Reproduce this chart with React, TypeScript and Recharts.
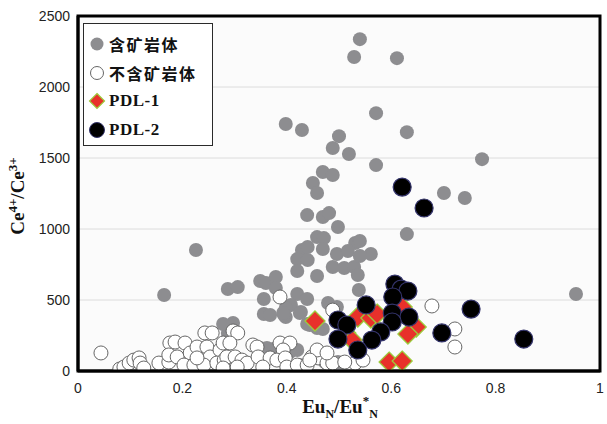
import React from 'react';
import {
  ScatterChart,
  Scatter,
  XAxis,
  YAxis,
  CartesianGrid,
} from 'recharts';

// [EuN/EuN*, Ce4+/Ce3+]
const oreBearing: [number, number][] = [
  [0.54, 2337], [0.529, 2211], [0.611, 2203], [0.571, 1816], [0.63, 1682],
  [0.398, 1739], [0.429, 1697], [0.5, 1654], [0.488, 1570], [0.519, 1528],
  [0.571, 1450], [0.774, 1492], [0.469, 1401], [0.488, 1380], [0.45, 1324],
  [0.458, 1253], [0.701, 1253], [0.741, 1218], [0.954, 542], [0.226, 852],
  [0.165, 535], [0.439, 1098], [0.469, 1084], [0.481, 1112], [0.498, 1014],
  [0.458, 943], [0.471, 936], [0.469, 859], [0.496, 824], [0.429, 852],
  [0.44, 873], [0.42, 788], [0.44, 781], [0.42, 704], [0.488, 732],
  [0.458, 669], [0.349, 634], [0.36, 620], [0.379, 662], [0.379, 584],
  [0.287, 577], [0.306, 591], [0.356, 507], [0.42, 542], [0.439, 507],
  [0.408, 465], [0.398, 444], [0.427, 415], [0.356, 401], [0.398, 380],
  [0.297, 338], [0.439, 331], [0.469, 296], [0.479, 479], [0.531, 901],
  [0.517, 845], [0.51, 725], [0.529, 732], [0.536, 676], [0.538, 570],
  [0.63, 964], [0.54, 915], [0.561, 824], [0.54, 810], [0.395, 394],
  [0.496, 451], [0.368, 394], [0.393, 408], [0.425, 408], [0.444, 324],
  [0.458, 303], [0.362, 162], [0.374, 155], [0.42, 148], [0.498, 63],
  [0.496, 28], [0.349, 162], [0.406, 134], [0.473, 63], [0.425, 42],
  [0.287, 268], [0.278, 331],
];

const barren: [number, number][] = [
  [0.044, 127], [0.08, 14], [0.088, 28], [0.098, 56], [0.107, 77],
  [0.117, 92], [0.119, 56], [0.126, 21], [0.155, 56], [0.174, 63],
  [0.176, 197], [0.186, 204], [0.205, 197], [0.174, 113], [0.19, 99],
  [0.215, 127], [0.203, 42], [0.222, 42], [0.228, 169], [0.243, 268],
  [0.257, 268], [0.247, 169], [0.253, 99], [0.241, 42], [0.272, 148],
  [0.266, 56], [0.28, 77], [0.228, 92], [0.297, 282], [0.306, 268],
  [0.278, 197], [0.291, 197], [0.335, 183], [0.343, 169], [0.387, 197],
  [0.406, 197], [0.393, 148], [0.285, 99], [0.301, 99], [0.314, 77],
  [0.324, 56], [0.345, 99], [0.368, 92], [0.381, 77], [0.397, 92],
  [0.4, 28], [0.42, 42], [0.439, 42], [0.448, 99], [0.46, 92],
  [0.477, 56], [0.488, 56], [0.458, 148], [0.477, 127], [0.278, 21],
  [0.305, 28], [0.354, 28], [0.387, 521], [0.488, 429], [0.678, 458],
  [0.722, 296], [0.722, 169], [0.531, 56], [0.511, 63], [0.546, 77],
  [0.444, 77],
];

const pdl1: [number, number][] = [
  [0.454, 352], [0.536, 380], [0.561, 373], [0.573, 401], [0.621, 451],
  [0.648, 310], [0.632, 260], [0.513, 268], [0.525, 218], [0.596, 63],
  [0.621, 70],
];

const pdl2: [number, number][] = [
  [0.621, 1295], [0.663, 1148], [0.607, 612], [0.619, 577], [0.632, 563],
  [0.603, 521], [0.552, 465], [0.753, 436], [0.602, 408], [0.634, 380],
  [0.498, 359], [0.515, 324], [0.602, 345], [0.58, 275], [0.697, 268],
  [0.563, 218], [0.498, 225], [0.536, 148], [0.854, 225],
];

const xTicks = [0, 0.2, 0.4, 0.6, 0.8, 1];
const yTicks = [0, 500, 1000, 1500, 2000, 2500];

const toRows = (pts: [number, number][]) => pts.map(([x, y]) => ({ x, y }));

const GRAY = '#8d8d90';
const RED = '#e8312b';
const GREEN = '#9ccb3b';

// plot box edges, matching the chart margins + axis sizes below
const PLOT = { left: 78, top: 16, right: 600, bottom: 371 };

const GrayDot = (p: any) => <circle cx={p.cx} cy={p.cy} r={7} fill={GRAY} />;
const WhiteDot = (p: any) => (
  <circle cx={p.cx} cy={p.cy} r={7} fill="#fff" stroke="#666" strokeWidth={1} />
);
const BlackDot = (p: any) => (
  <circle cx={p.cx} cy={p.cy} r={9} fill="#000" stroke="#33336a" strokeWidth={1.2} />
);
const Diamond = (p: any) => {
  const d = 10;
  return (
    <polygon
      points={`${p.cx},${p.cy - d} ${p.cx + d},${p.cy} ${p.cx},${p.cy + d} ${p.cx - d},${p.cy}`}
      fill={RED}
      stroke={GREEN}
      strokeWidth={1.3}
    />
  );
};

const serif = '"Liberation Serif", "DejaVu Serif", serif';
const sans = '"Liberation Sans", Arial, sans-serif';

const YLabel = () => (
  <text
    x={24}
    y={196}
    transform="rotate(-90 24 196)"
    textAnchor="middle"
    fontFamily={serif}
    fontWeight="bold"
    fontSize={19}
    fill="#111"
  >
    Ce<tspan dy={-7} fontSize={13}>4+</tspan>
    <tspan dy={7}>/Ce</tspan>
    <tspan dy={-7} fontSize={13}>3+</tspan>
  </text>
);

const XLabel = () => (
  <text x={340} y={413} textAnchor="middle" fontFamily={serif} fontWeight="bold" fontSize={19} fill="#111">
    Eu<tspan dy={5} fontSize={12}>N</tspan>
    <tspan dy={-5}>/Eu</tspan>
    <tspan dy={-8} fontSize={13}>*</tspan>
    <tspan dy={13} fontSize={12}>N</tspan>
  </text>
);

const legendItems = [
  { label: '含矿岩体', icon: 'gray' },
  { label: '不含矿岩体', icon: 'white' },
  { label: 'PDL-1', icon: 'diamond' },
  { label: 'PDL-2', icon: 'black' },
];

const LegendIcon = ({ kind }: { kind: string }) => (
  <svg width={18} height={18} style={{ marginRight: 3, flex: 'none' }}>
    {kind === 'gray' && <circle cx={9} cy={9} r={6.5} fill={GRAY} />}
    {kind === 'white' && <circle cx={9} cy={9} r={6.5} fill="#fff" stroke="#666" />}
    {kind === 'diamond' && <polygon points="9,1.5 16.5,9 9,16.5 1.5,9" fill={RED} stroke={GREEN} strokeWidth={1.2} />}
    {kind === 'black' && <circle cx={9} cy={9} r={7.5} fill="#000" stroke="#33336a" />}
  </svg>
);

export default function App() {
  return (
    <div style={{ position: 'absolute', left: 0, top: 0, width: 607, height: 424, background: '#fff' }}>
      <ScatterChart
        width={607}
        height={424}
        margin={{ top: PLOT.top, right: 607 - PLOT.right, bottom: 23, left: PLOT.left - 60 }}
      >
        <CartesianGrid vertical={false} stroke="#dcdcdc" fill="#fbfbfb" />
        <XAxis
          type="number"
          dataKey="x"
          domain={[0, 1]}
          ticks={xTicks}
          allowDataOverflow
          height={30}
          tickLine={false}
          axisLine={{ stroke: '#1a1a1a', strokeWidth: 3 }}
          tickSize={0}
          tickMargin={12}
          tick={{ fontSize: 14, fill: '#222', fontFamily: sans }}
          label={<XLabel />}
        />
        <YAxis
          type="number"
          dataKey="y"
          domain={[0, 2500]}
          ticks={yTicks}
          allowDataOverflow
          width={60}
          tickLine={false}
          axisLine={{ stroke: '#1a1a1a', strokeWidth: 3 }}
          tickSize={0}
          tickMargin={8}
          tick={{ fontSize: 14, fill: '#222', fontFamily: sans }}
          label={<YLabel />}
        />
        <Scatter data={toRows(oreBearing)} shape={GrayDot} isAnimationActive={false} />
        <Scatter data={toRows(barren)} shape={WhiteDot} isAnimationActive={false} />
        <Scatter data={toRows(pdl1)} shape={Diamond} isAnimationActive={false} />
        <Scatter data={toRows(pdl2)} shape={BlackDot} isAnimationActive={false} />
      </ScatterChart>
      {/* plot frame */}
      <svg
        width={607}
        height={424}
        style={{ position: 'absolute', left: 0, top: 0, pointerEvents: 'none' }}
      >
        <path
          d={`M${PLOT.left},${PLOT.top} H${PLOT.right} V${PLOT.bottom} H${PLOT.left} Z`}
          fill="none"
          stroke="#000"
          strokeWidth={3}
        />
      </svg>
      <div
        style={{
          position: 'absolute',
          left: 83,
          top: 23,
          width: 130,
          height: 123,
          border: '1.5px solid #2a2a2a',
          background: '#fff',
          boxSizing: 'border-box',
          padding: '6px 0 0 4px',
        }}
      >
        {legendItems.map((it) => {
          const cjk = it.icon === 'gray' || it.icon === 'white';
          return (
            <div key={it.label} style={{ display: 'flex', alignItems: 'center', height: 28.5 }}>
              <LegendIcon kind={it.icon} />
              <span
                style={{
                  fontFamily: cjk ? '"Noto Sans CJK SC", sans-serif' : serif,
                  fontWeight: cjk ? 600 : 'bold',
                  fontSize: cjk ? 16 : 17,
                  color: '#111',
                  letterSpacing: cjk ? 1.5 : 0.5,
                }}
              >
                {it.label}
              </span>
            </div>
          );
        })}
      </div>
    </div>
  );
}
